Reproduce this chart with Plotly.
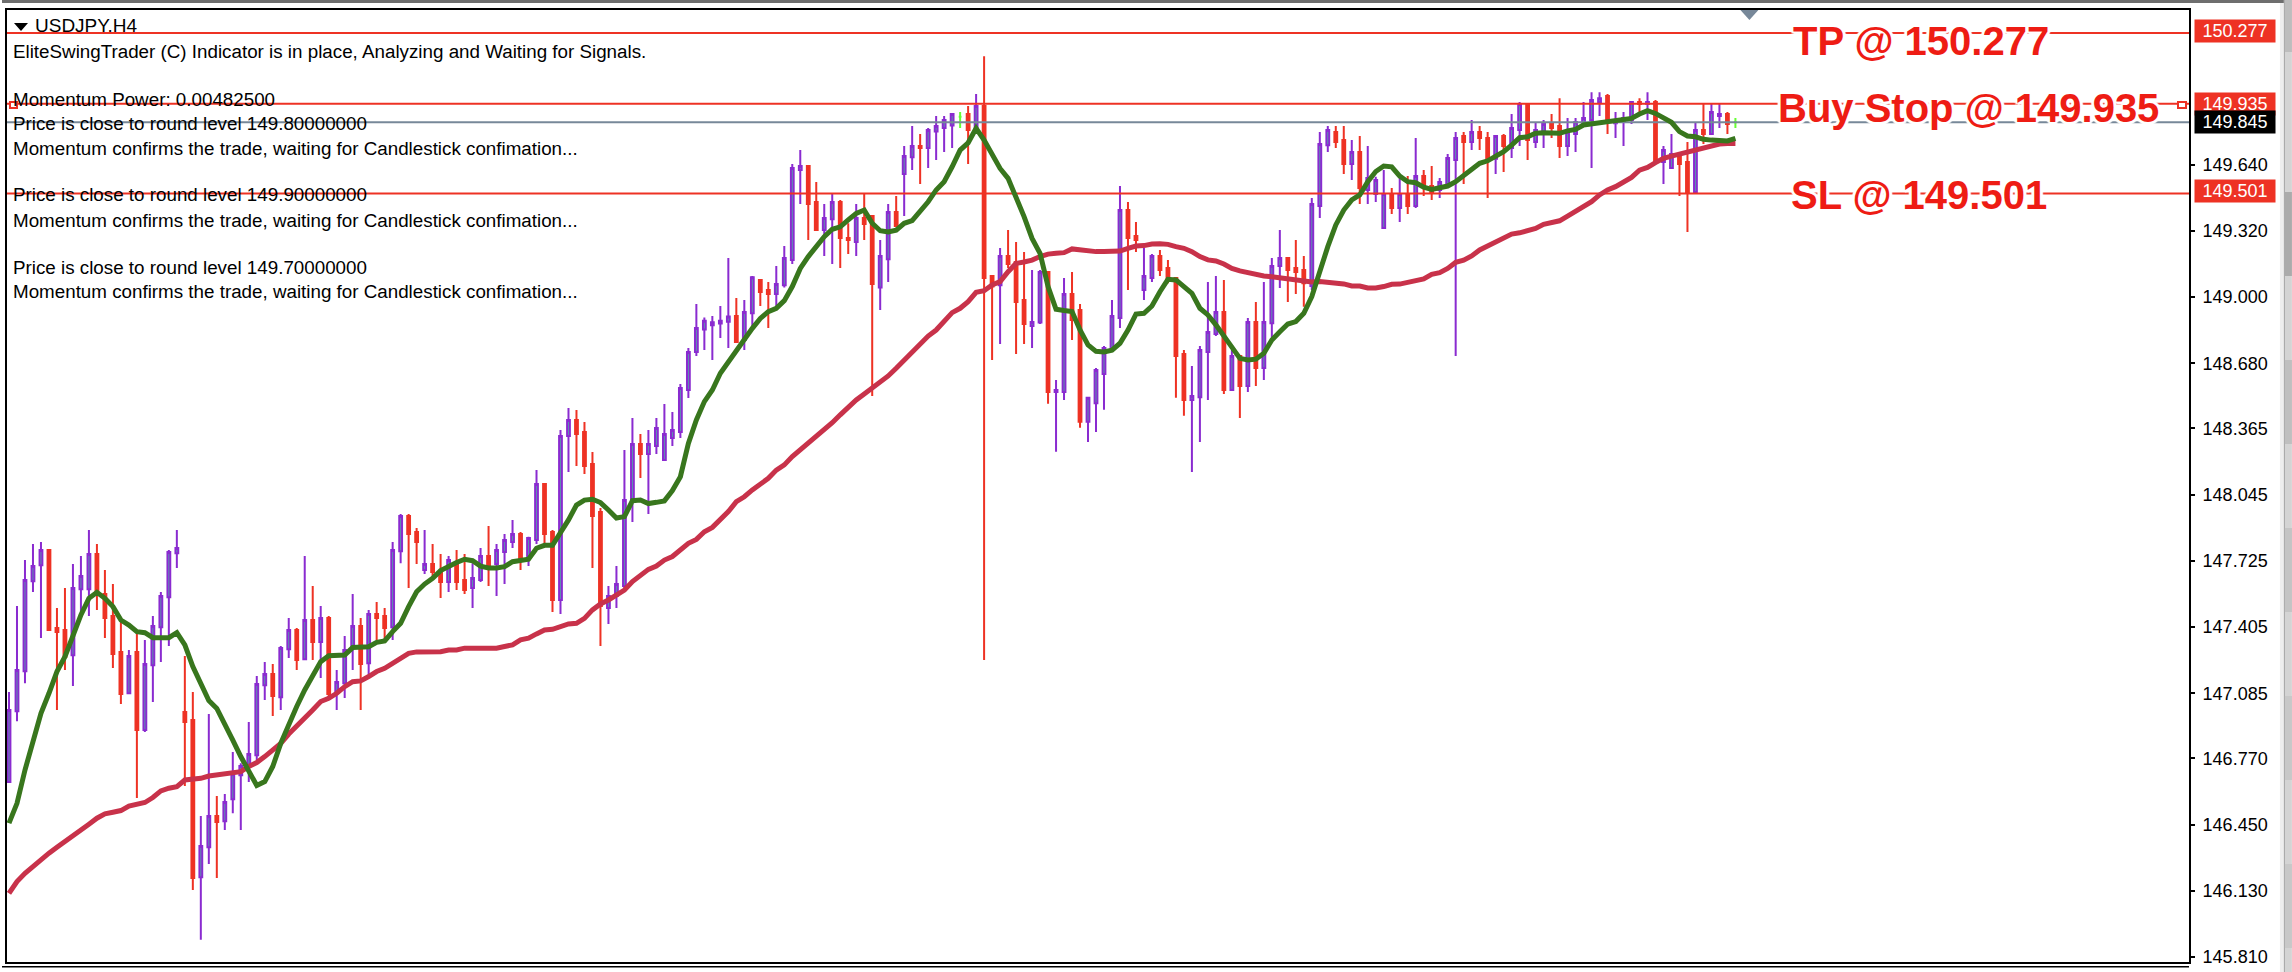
import plotly.graph_objects as go

# USDJPY H4 bars
opens = [146.656,146.998,147.191,147.626,147.704,147.778,147.401,147.391,147.269,147.588,
147.588,147.758,147.565,147.459,147.285,147.085,147.285,146.908,147.220,147.404,
147.549,147.762,146.995,146.956,146.196,146.341,146.492,146.466,146.573,146.689,
146.737,146.785,147.124,147.178,147.066,147.298,147.391,147.249,147.439,147.333,
147.449,147.085,147.133,147.310,147.410,147.230,147.468,147.459,147.404,147.771,
147.942,147.865,147.681,147.710,147.671,147.623,147.710,147.633,147.594,147.633,
147.749,147.710,147.768,147.816,147.855,147.746,147.826,148.097,147.865,147.536,
148.329,148.406,148.348,148.193,147.961,147.497,147.555,147.604,148.019,148.290,
148.242,148.280,148.213,148.319,148.348,148.551,148.735,148.844,148.864,148.873,
148.881,148.909,148.793,148.922,149.083,149.034,149.015,149.057,149.179,149.614,
149.634,149.460,149.324,149.376,149.460,149.286,149.266,149.382,149.392,149.047,
149.183,149.411,149.595,149.676,149.730,149.721,149.801,149.817,149.830,149.872,
149.885,149.808,149.924,149.102,149.057,149.199,149.170,148.986,148.861,148.877,
149.122,148.542,148.542,149.015,148.938,148.397,148.487,148.629,148.745,148.899,
149.421,149.296,149.035,149.093,149.199,149.141,149.093,148.725,148.503,148.516,
148.735,148.822,148.928,148.551,148.716,148.571,148.880,148.658,148.874,149.151,
149.189,149.141,149.131,149.054,149.441,149.734,149.798,149.760,149.644,149.702,
149.518,149.499,149.334,149.498,149.431,149.498,149.440,149.585,149.537,149.518,
149.547,149.663,149.779,149.750,149.798,149.769,149.669,149.779,149.721,149.808,
149.933,149.750,149.798,149.837,149.827,149.730,149.788,149.837,149.856,149.943,
149.972,149.840,149.846,149.856,149.943,149.933,149.943,149.653,149.624,149.692,
149.653,149.508,149.808,149.788,149.875,149.885,149.845]

highs = [147.091,147.507,147.729,147.807,147.816,147.778,147.497,147.594,147.710,147.749,
147.874,147.807,147.681,147.613,147.439,147.294,147.372,147.343,147.459,147.575,
147.778,147.874,147.265,147.091,146.492,146.985,146.589,146.598,146.801,146.747,
146.946,147.169,147.236,147.227,147.314,147.449,147.401,147.749,147.604,147.507,
147.459,147.198,147.362,147.565,147.449,147.488,147.526,147.497,147.816,147.952,
147.952,147.884,147.874,147.807,147.758,147.749,147.778,147.758,147.713,147.787,
147.894,147.807,147.855,147.923,147.865,147.842,148.164,148.097,147.874,148.358,
148.464,148.454,148.396,148.251,147.981,147.604,147.700,148.261,148.416,148.338,
148.358,148.416,148.483,148.445,148.580,148.754,148.967,148.902,148.909,148.957,
149.189,148.996,148.986,149.102,149.083,149.073,149.150,149.247,149.643,149.711,
149.634,149.556,149.450,149.498,149.469,149.357,149.450,149.498,149.392,149.276,
149.450,149.489,149.730,149.827,149.788,149.817,149.875,149.875,149.885,149.895,
149.924,149.982,150.165,149.102,149.237,149.325,149.267,149.218,149.131,149.131,
149.122,148.600,149.093,149.122,148.967,148.513,148.658,148.764,148.986,149.537,
149.460,149.363,149.238,149.209,149.228,149.180,149.093,148.745,148.667,148.764,
149.073,149.102,149.083,148.745,148.716,148.899,148.977,149.073,149.189,149.325,
149.189,149.276,149.199,149.479,149.798,149.827,149.827,149.827,149.760,149.779,
149.731,149.582,149.614,149.527,149.582,149.585,149.769,149.614,149.634,149.576,
149.692,149.798,149.798,149.856,149.827,149.798,149.779,149.788,149.885,149.943,
149.933,149.846,149.856,149.885,149.962,149.866,149.866,149.943,149.991,149.991,
149.982,149.895,149.895,149.943,149.962,149.991,149.953,149.730,149.788,149.701,
149.750,149.846,149.933,149.933,149.933,149.895,149.866]

lows = [146.656,146.950,147.133,147.575,147.352,147.391,147.004,147.198,147.120,147.472,
147.459,147.488,147.352,147.207,147.033,147.085,146.579,146.898,147.043,147.236,
147.314,147.691,146.637,146.134,145.893,146.260,146.192,146.424,146.505,146.424,
146.656,146.763,147.053,146.975,147.004,147.256,147.198,147.246,147.246,147.159,
147.053,147.004,147.062,147.198,147.004,147.166,147.343,147.343,147.343,147.713,
147.594,147.710,147.662,147.633,147.546,147.575,147.584,147.565,147.497,147.623,
147.604,147.555,147.613,147.787,147.681,147.700,147.807,147.810,147.478,147.468,
148.155,148.184,148.145,147.691,147.314,147.420,147.497,147.584,147.913,148.126,
147.952,148.242,148.213,148.280,148.319,148.512,148.716,148.744,148.696,148.802,
148.754,148.783,148.744,148.857,148.957,148.851,148.947,149.047,149.160,149.450,
149.276,149.324,149.199,149.160,149.141,149.208,149.199,149.276,148.522,148.938,
149.073,149.344,149.392,149.614,149.547,149.624,149.663,149.701,149.721,149.817,
149.643,149.808,147.246,148.696,148.773,149.141,148.725,148.774,148.754,148.870,
148.484,148.252,148.503,148.793,148.368,148.300,148.348,148.455,148.745,148.851,
149.035,149.218,148.986,149.073,149.102,149.067,148.513,148.426,148.155,148.300,
148.503,148.812,148.532,148.551,148.416,148.542,148.571,148.600,148.793,149.044,
148.977,149.015,148.954,149.035,149.383,149.702,149.721,149.595,149.566,149.450,
149.450,149.460,149.334,149.402,149.363,149.402,149.431,149.489,149.469,149.479,
149.547,148.715,149.547,149.711,149.711,149.479,149.595,149.605,149.672,149.730,
149.663,149.721,149.721,149.769,149.672,149.682,149.701,149.837,149.624,149.875,
149.788,149.769,149.730,149.837,149.895,149.856,149.653,149.547,149.624,149.489,
149.315,149.508,149.740,149.788,149.817,149.788,149.817]

closes = [147.004,147.198,147.633,147.700,147.778,147.391,147.381,147.262,147.594,147.652,
147.758,147.565,147.449,147.275,147.082,147.265,146.908,147.227,147.410,147.555,
147.768,147.787,146.946,146.192,146.347,146.492,146.463,146.560,146.695,146.734,
146.792,147.130,147.178,147.072,147.304,147.391,147.246,147.439,147.333,147.449,
147.082,147.140,147.294,147.410,147.227,147.468,147.449,147.401,147.778,147.942,
147.855,147.816,147.710,147.671,147.623,147.729,147.623,147.584,147.642,147.749,
147.700,147.778,147.826,147.855,147.729,147.836,148.097,147.855,147.536,148.329,
148.406,148.338,148.184,147.942,147.507,147.555,147.613,148.019,148.290,148.242,
148.290,148.367,148.338,148.358,148.561,148.735,148.851,148.886,148.878,148.886,
148.906,148.783,148.928,149.096,149.025,149.015,149.063,149.189,149.624,149.634,
149.450,149.324,149.382,149.460,149.286,149.276,149.382,149.353,149.063,149.199,
149.411,149.344,149.682,149.730,149.721,149.808,149.827,149.856,149.885,149.872,
149.808,149.924,149.092,149.051,149.199,149.160,148.977,148.870,148.880,149.122,
148.542,148.551,149.015,148.890,148.397,148.513,148.648,148.754,148.909,149.421,
149.286,149.276,149.102,149.199,149.131,149.093,148.716,148.503,148.522,148.745,
148.832,148.928,148.551,148.716,148.571,148.880,148.658,148.880,149.151,149.189,
149.131,149.122,149.067,149.450,149.740,149.808,149.750,149.644,149.702,149.528,
149.576,149.566,149.498,149.431,149.498,149.440,149.585,149.537,149.508,149.556,
149.672,149.769,149.750,149.798,149.769,149.663,149.779,149.730,149.817,149.933,
149.759,149.808,149.837,149.817,149.730,149.798,149.846,149.866,149.953,149.962,
149.846,149.856,149.866,149.943,149.933,149.943,149.653,149.711,149.692,149.643,
149.508,149.808,149.788,149.895,149.885,149.837,149.845]

fast_ma = [146.457,146.553,146.714,146.859,146.988,147.085,147.190,147.262,147.359,147.464,
147.544,147.573,147.544,147.504,147.439,147.415,147.383,147.378,147.354,147.354,
147.354,147.378,147.319,147.214,147.133,147.050,147.012,146.940,146.859,146.779,
146.706,146.639,146.658,146.731,146.843,146.940,147.021,147.101,147.166,147.238,
147.267,147.267,147.270,147.306,147.306,147.310,147.331,147.338,147.383,147.423,
147.504,147.576,147.613,147.641,147.678,147.700,147.717,147.733,147.726,147.700,
147.691,147.691,147.697,147.721,147.726,147.733,147.786,147.800,147.800,147.858,
147.923,147.995,148.019,148.023,148.007,147.971,147.932,147.939,148.016,148.019,
148.002,148.008,148.015,148.065,148.132,148.293,148.406,148.495,148.551,148.632,
148.688,148.736,148.801,148.849,148.897,148.930,148.946,148.983,149.051,149.139,
149.196,149.244,149.292,149.328,149.340,149.373,149.405,149.421,149.357,149.321,
149.315,149.324,149.357,149.370,149.413,149.461,149.518,149.558,149.630,149.711,
149.746,149.816,149.759,149.687,149.622,149.574,149.485,149.389,149.284,149.212,
149.051,148.941,148.935,148.930,148.841,148.769,148.738,148.735,148.744,148.777,
148.841,148.918,148.922,148.957,149.026,149.086,149.083,149.051,149.018,148.946,
148.914,148.866,148.809,148.753,148.704,148.696,148.700,148.729,148.793,148.833,
148.870,148.882,148.922,149.003,149.131,149.244,149.349,149.421,149.470,149.494,
149.558,149.607,149.634,149.630,149.585,149.558,149.553,149.531,149.521,149.526,
149.537,149.558,149.590,149.622,149.647,149.659,149.682,149.703,149.735,149.771,
149.775,149.792,149.795,149.795,149.792,149.804,149.811,149.832,149.837,149.840,
149.845,149.856,149.859,149.864,149.885,149.901,149.888,149.864,149.845,149.800,
149.779,149.775,149.763,149.759,149.756,149.755,149.767]

slow_ma = [146.118,146.175,146.215,146.250,146.283,146.312,146.341,146.368,146.392,146.424,
146.452,146.481,146.502,146.510,146.518,146.540,146.547,146.557,146.581,146.613,
146.626,146.634,146.666,146.669,146.674,146.685,146.690,146.690,146.698,146.706,
146.731,146.750,146.779,146.811,146.843,146.888,146.924,146.964,147.004,147.045,
147.061,147.085,147.117,147.141,147.145,147.166,147.190,147.206,147.230,147.254,
147.278,147.285,147.286,147.286,147.286,147.294,147.294,147.303,147.303,147.303,
147.303,147.303,147.311,147.319,147.343,147.351,147.372,147.391,147.394,147.404,
147.420,147.423,147.447,147.488,147.517,147.536,147.557,147.584,147.625,147.657,
147.684,147.700,147.729,147.746,147.775,147.810,147.829,147.866,147.887,147.923,
147.963,148.011,148.035,148.068,148.097,148.124,148.164,148.189,148.229,148.261,
148.294,148.323,148.358,148.393,148.431,148.471,148.503,148.532,148.559,148.587,
148.619,148.656,148.696,148.732,148.769,148.812,148.841,148.882,148.925,148.946,
148.978,149.023,149.031,149.059,149.075,149.123,149.163,149.170,149.179,149.196,
149.208,149.212,149.215,149.233,149.228,149.228,149.220,149.220,149.220,149.223,
149.236,149.247,149.249,149.257,149.258,149.255,149.244,149.236,149.220,149.196,
149.180,149.175,149.160,149.139,149.127,149.119,149.107,149.102,149.099,149.094,
149.091,149.086,149.075,149.073,149.075,149.073,149.067,149.064,149.054,149.054,
149.044,149.044,149.051,149.062,149.063,149.071,149.080,149.088,149.110,149.118,
149.139,149.168,149.179,149.199,149.228,149.247,149.263,149.284,149.305,149.311,
149.320,149.332,149.352,149.360,149.369,149.392,149.413,149.437,149.461,149.494,
149.518,149.534,149.555,149.579,149.614,149.627,149.650,149.671,149.682,149.692,
149.700,149.706,149.719,149.727,149.740,149.743,149.743]

tick_prices = [149.640,149.320,149.000,148.680,148.365,148.045,147.725,147.405,147.085,146.770,146.450,146.130,145.810]
tp_price = 150.277
entry_price = 149.935
bid_price = 149.845
sl_price = 149.501

info_lines = [
    (52, "EliteSwingTrader (C) Indicator is in place, Analyzing and Waiting for Signals."),
    (99, "Momentum Power: 0.00482500"),
    (123, "Price is close to round level 149.80000000"),
    (148, "Momentum confirms the trade, waiting for Candlestick confimation..."),
    (195, "Price is close to round level 149.90000000"),
    (220, "Momentum confirms the trade, waiting for Candlestick confimation..."),
    (267, "Price is close to round level 149.70000000"),
    (292, "Momentum confirms the trade, waiting for Candlestick confimation..."),
]

RED = "#EE3224"
PURPLE = "#8A2BD0"
WIDTH, HEIGHT = 2292, 972
LEFT, RIGHT, TOP, BOTTOM = 5, 2189, 10, 962


def px_x(x):
    return (x - LEFT) / (RIGHT - LEFT)


def px_y(y):
    return (BOTTOM - y) / (BOTTOM - TOP)


bars = list(range(len(opens)))
normal = [i for i in bars if opens[i] != closes[i]]
doji = [i for i in bars if opens[i] == closes[i]]
x_range = [-0.25, 272.75]


def candle_trace(idx, up_line, up_fill, down_line, down_fill):
    return go.Candlestick(
        x=idx,
        open=[opens[i] for i in idx],
        high=[highs[i] for i in idx],
        low=[lows[i] for i in idx],
        close=[closes[i] for i in idx],
        whiskerwidth=0,
        increasing=dict(line=dict(color=up_line, width=2), fillcolor=up_fill),
        decreasing=dict(line=dict(color=down_line, width=2), fillcolor=down_fill),
        hoverinfo="skip",
        showlegend=False,
    )


fig = go.Figure()
fig.add_trace(candle_trace(normal, PURPLE, "#55A5A8", RED, RED))
fig.add_trace(candle_trace(doji, "#66FF33", "#66FF33", "#66FF33", "#66FF33"))

# horizontal levels, drawn over the candles but under the averages
for level, color in [(bid_price, "#778899"), (tp_price, RED), (entry_price, RED), (sl_price, RED)]:
    fig.add_trace(go.Scatter(x=x_range, y=[level, level], mode="lines",
                             line=dict(color=color, width=2), hoverinfo="skip", showlegend=False))

fig.add_trace(go.Scatter(x=bars, y=slow_ma, mode="lines", line=dict(color="#C8324A", width=5),
                         hoverinfo="skip", showlegend=False))
fig.add_trace(go.Scatter(x=bars, y=fast_ma, mode="lines", line=dict(color="#38761D", width=5),
                         hoverinfo="skip", showlegend=False))

# info text top left
annotations = [dict(xref="paper", yref="paper", x=px_x(32), y=px_y(25), text="USDJPY.H4",
                    xanchor="left", yanchor="middle", showarrow=False, borderpad=0,
                    font=dict(family="Liberation Sans", size=19, color="black"))]
for y, line in info_lines:
    annotations.append(dict(xref="paper", yref="paper", x=px_x(10), y=px_y(y), text=line,
                            xanchor="left", yanchor="middle", showarrow=False, borderpad=0,
                            font=dict(family="Liberation Sans", size=18.8, color="black")))

# big trade labels sitting over their level lines
halo = "3px 0 1px white, -3px 0 1px white, 0 3px 1px white, 0 -3px 1px white, 2px 2px 1px white, -2px -2px 1px white, 2px -2px 1px white, -2px 2px 1px white"
for text, left, y in [("TP @ 150.277", 1792, 41), ("Buy Stop @ 149.935", 1777, 108), ("SL @ 149.501", 1790, 195)]:
    annotations.append(dict(xref="paper", yref="paper", x=px_x(left), y=px_y(y), text=text,
                            xanchor="left", yanchor="middle", showarrow=False, borderpad=0,
                            font=dict(family="Liberation Sans", size=40, color="#EE1C14", weight="bold", shadow=halo)))

# coloured price tags on the axis
for price, bg, shift in [(tp_price, RED, 2), (entry_price, RED, 0), (bid_price, "black", 0), (sl_price, RED, 2)]:
    annotations.append(dict(xref="paper", yref="y", x=px_x(2194), y=price, text=f"{price:.3f}",
                            xanchor="left", yanchor="middle", yshift=shift, showarrow=False,
                            width=78, height=20, borderpad=1, bgcolor=bg, align="center",
                            font=dict(family="Liberation Sans", size=18, color="white")))


def rect(x0, y0, x1, y1, fill, line=None):
    return dict(type="rect", xref="paper", yref="paper", x0=px_x(x0), x1=px_x(x1), y0=px_y(y0), y1=px_y(y1),
                fillcolor=fill, line=dict(color=line or fill, width=2 if line else 0), layer="above")


def triangle(x0, x1, y0, y1, fill):
    path = f"M {px_x(x0)} {px_y(y0)} L {px_x(x1)} {px_y(y0)} L {px_x((x0 + x1) / 2)} {px_y(y1)} Z"
    return dict(type="path", xref="paper", yref="paper", path=path, fillcolor=fill, line=dict(width=0), layer="above")


shapes = [
    rect(0, 0, 2284, 3, "#6E6E6E"),
    rect(0, 966, 2189, 967.5, "black"),
    rect(2280, 3, 2284, 972, "#EEEEEE"),
    rect(2284, 0, 2292, 972, "#D4D4D4"),
    rect(2284, 0, 2285, 972, "#A8A8A8"),
    rect(8, 102, 15, 108, "white", RED),
    rect(2178, 102, 2186, 108, "white", RED),
    triangle(12, 26, 23, 31, "black"),
    triangle(1740, 1758, 10, 20, "#778899"),
]
# window scrollbar bands
for y0, y1, shade in [(0, 52, "#BDBDBD"), (192, 276, "#ABABAB"), (360, 444, "#BFBFBF"),
                      (528, 612, "#C4C4C4"), (696, 780, "#C8C8C8"), (864, 948, "#C8C8C8")]:
    shapes.append(rect(2285, y0, 2292, y1, shade))

fig.update_layout(
    width=WIDTH,
    height=HEIGHT,
    margin=dict(l=LEFT, r=WIDTH - RIGHT, t=TOP, b=HEIGHT - BOTTOM, pad=0),
    paper_bgcolor="white",
    plot_bgcolor="white",
    boxgap=0.5,
    showlegend=False,
    annotations=annotations,
    shapes=shapes,
    xaxis=dict(range=x_range, rangeslider_visible=False, showgrid=False, zeroline=False,
               showticklabels=False, ticks="", showline=True, mirror=True, linecolor="black", linewidth=2),
    yaxis=dict(range=[145.786, 150.388], side="right", showgrid=False, zeroline=False,
               tickmode="array", tickvals=tick_prices, ticktext=[f"{t:.3f}" for t in tick_prices],
               ticks="outside", ticklen=4, tickwidth=2, tickcolor="black", ticklabelstandoff=4,
               tickfont=dict(family="Liberation Sans", size=18, color="black"),
               showline=True, mirror=True, linecolor="black", linewidth=2),
)

fig.write_html("out.html", config=dict(displayModeBar=False),
               post_script="document.body.style.margin='0';document.body.style.overflow='hidden';")
